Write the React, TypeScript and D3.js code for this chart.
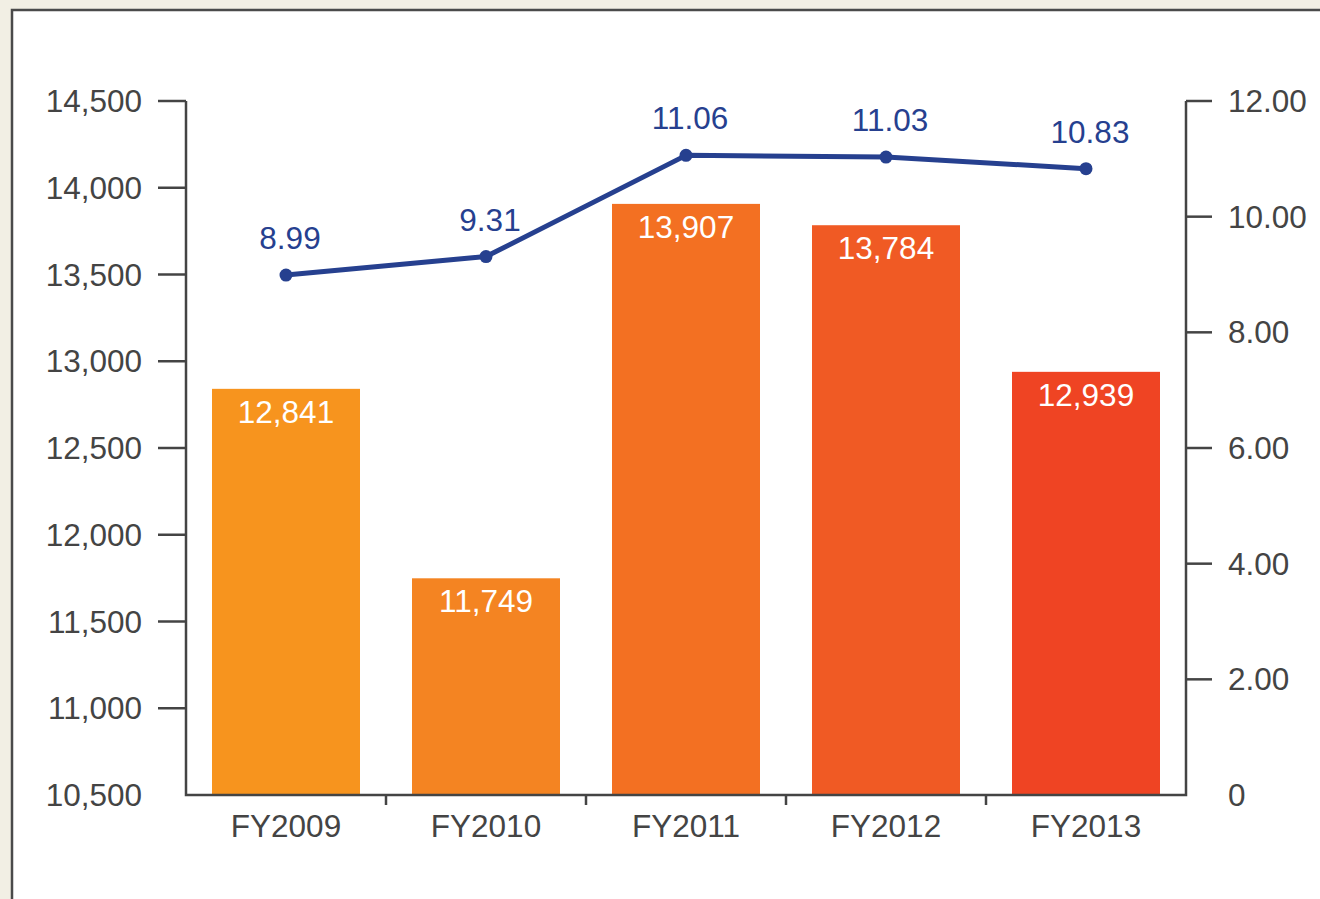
import React from "react";
import * as d3 from "d3";

const categories = ["FY2009", "FY2010", "FY2011", "FY2012", "FY2013"];
const barValues = [12841, 11749, 13907, 13784, 12939];
const lineValues = [8.99, 9.31, 11.06, 11.03, 10.83];
const barColors = ["#f7941e", "#f48422", "#f37022", "#f05a24", "#ef4423"];
const leftTicks = [10500, 11000, 11500, 12000, 12500, 13000, 13500, 14000, 14500];
const rightTicks = [0, 2, 4, 6, 8, 10, 12];

const W = 1320;
const H = 899;
const plotL = 186;
const plotR = 1186;
const plotT = 101;
const plotB = 795;

export default function App() {
  const x = d3.scaleBand<string>().domain(categories).range([plotL, plotR]).paddingInner(0.26).paddingOuter(0.13);
  const yL = d3.scaleLinear().domain([10500, 14500]).range([plotB, plotT]);
  const yR = d3.scaleLinear().domain([0, 12]).range([plotB, plotT]);
  const step = x.step();
  const cx = (c: string) => (x(c) as number) + x.bandwidth() / 2;
  const fmtL = d3.format(",");
  const fmtR = (v: number) => (v === 0 ? "0" : d3.format(".2f")(v));
  const line = d3
    .line<number>()
    .x((_, i) => cx(categories[i]))
    .y((v) => yR(v));
  const font = "Liberation Sans, Arial, Helvetica, sans-serif";
  const axisColor = "#444";
  const blue = "#26408f";
  const fs = 31.5;

  return (
    <svg
      width={W}
      height={H}
      style={{ position: "fixed", left: 0, top: 0, display: "block" }}
      fontFamily={font}
    >
      <rect x={0} y={0} width={W} height={H} fill="#f2efe4" />
      <rect x={12} y={10} width={W + 20} height={H + 20} fill="#ffffff" stroke="#4a4a4a" strokeWidth={2.5} />

      {/* bars */}
      {categories.map((c, i) => (
        <g key={c}>
          <rect
            x={x(c) as number}
            y={yL(barValues[i])}
            width={x.bandwidth()}
            height={plotB - yL(barValues[i])}
            fill={barColors[i]}
          />
          <text
            x={cx(c)}
            y={yL(barValues[i]) + 34}
            textAnchor="middle"
            fill="#ffffff"
            fontSize={fs}
          >
            {fmtL(barValues[i])}
          </text>
        </g>
      ))}

      {/* axes */}
      <path
        d={`M${plotL},${plotT}V${plotB}H${plotR}V${plotT}`}
        fill="none"
        stroke={axisColor}
        strokeWidth={2.5}
      />
      {leftTicks.map((t) => (
        <g key={"l" + t}>
          {t !== 10500 && (
            <line x1={plotL - 28} x2={plotL} y1={yL(t)} y2={yL(t)} stroke={axisColor} strokeWidth={2.5} />
          )}
          <text x={142} y={yL(t) + 11} textAnchor="end" fill={axisColor} fontSize={fs}>
            {fmtL(t)}
          </text>
        </g>
      ))}
      {rightTicks.map((t) => (
        <g key={"r" + t}>
          {t !== 0 && (
            <line x1={plotR} x2={plotR + 26} y1={yR(t)} y2={yR(t)} stroke={axisColor} strokeWidth={2.5} />
          )}
          <text x={1228} y={yR(t) + 11} textAnchor="start" fill={axisColor} fontSize={fs}>
            {fmtR(t)}
          </text>
        </g>
      ))}
      {categories.slice(1).map((c) => (
        <line
          key={"xt" + c}
          x1={(x(c) as number) - (step - x.bandwidth()) / 2}
          x2={(x(c) as number) - (step - x.bandwidth()) / 2}
          y1={plotB}
          y2={plotB + 10}
          stroke={axisColor}
          strokeWidth={2.5}
        />
      ))}
      {categories.map((c) => (
        <text key={"xl" + c} x={cx(c)} y={837} textAnchor="middle" fill={axisColor} fontSize={fs}>
          {c}
        </text>
      ))}

      {/* line */}
      <path d={line(lineValues) || ""} fill="none" stroke={blue} strokeWidth={5} strokeLinejoin="round" />
      {lineValues.map((v, i) => (
        <g key={"p" + i}>
          <circle cx={cx(categories[i])} cy={yR(v)} r={6.5} fill={blue} />
          <text
            x={cx(categories[i]) + 4}
            y={yR(v) - 26}
            textAnchor="middle"
            fill={blue}
            fontSize={fs}
          >
            {d3.format(".2f")(v)}
          </text>
        </g>
      ))}
    </svg>
  );
}
